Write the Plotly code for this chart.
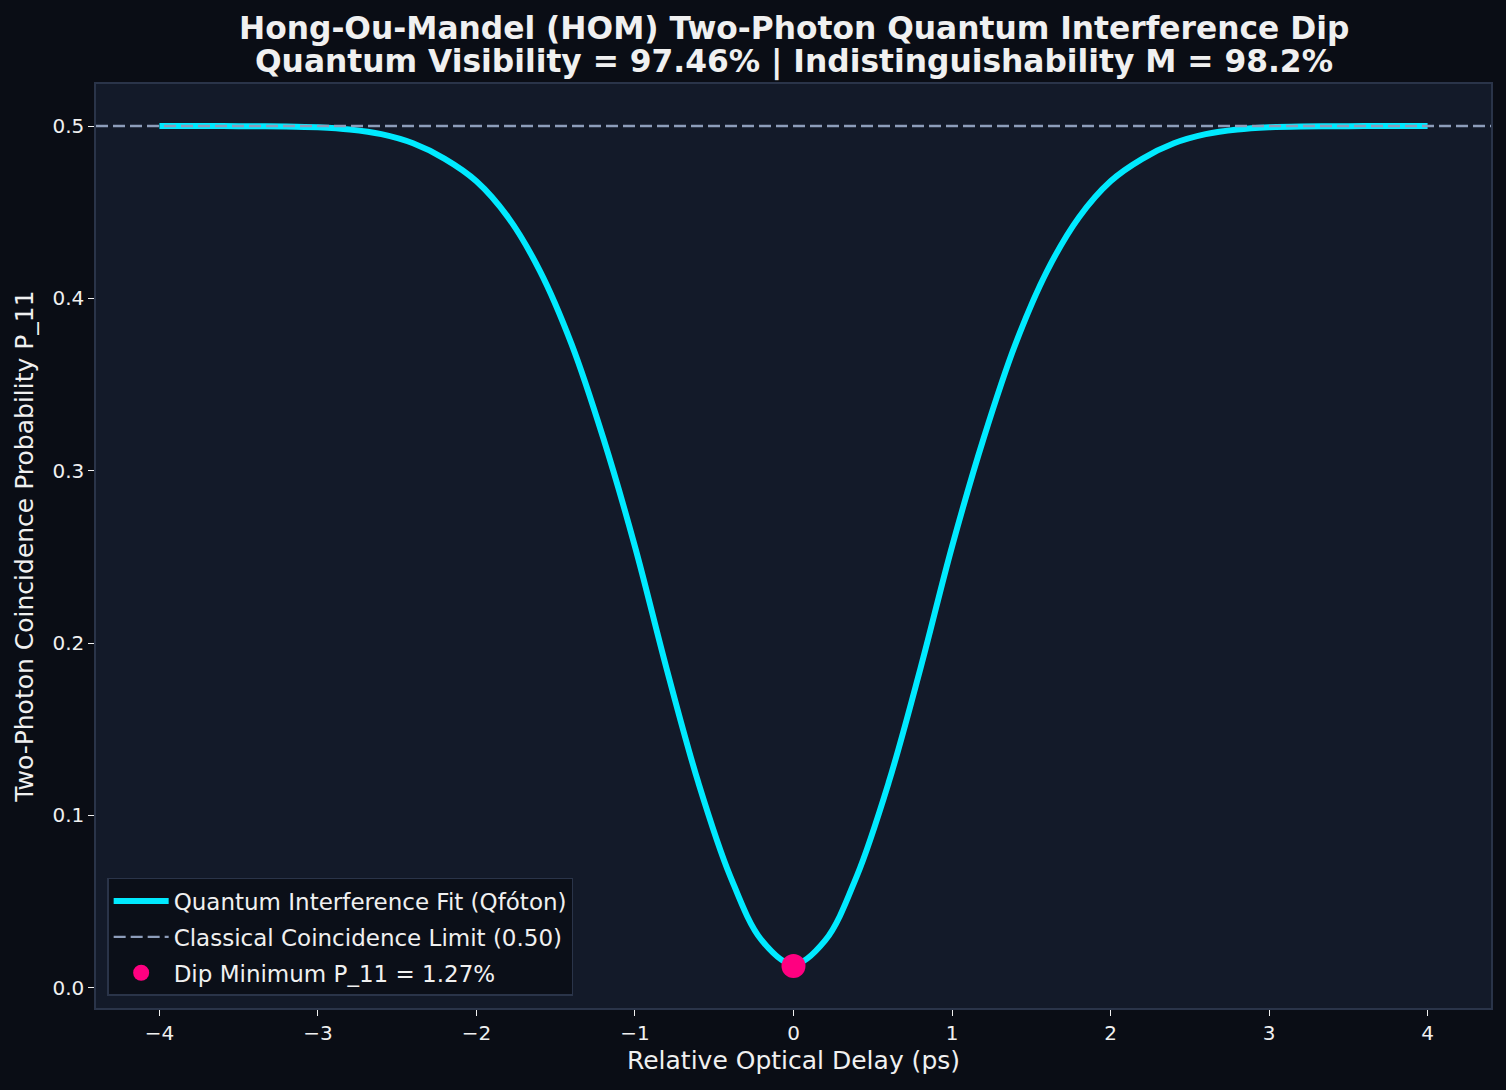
import plotly.graph_objects as go

# HOM dip, values (relative delay in ps, P_11)
delay_ps = [-4.0, -3.8, -3.6, -3.4, -3.2, -3.0, -2.8, -2.6, -2.4, -2.2, -2.0,
            -1.8, -1.6, -1.4, -1.2, -1.0, -0.8, -0.6, -0.4, -0.2, 0.0,
            0.2, 0.4, 0.6, 0.8, 1.0, 1.2, 1.4, 1.6, 1.8, 2.0,
            2.2, 2.4, 2.6, 2.8, 3.0, 3.2, 3.4, 3.6, 3.8, 4.0]
p11 = [0.5000, 0.5000, 0.5000, 0.4999, 0.4998, 0.4993, 0.4980, 0.4953, 0.4900, 0.4810, 0.4680,
       0.4470, 0.4160, 0.3735, 0.3190, 0.2560, 0.1850, 0.1190, 0.0650, 0.0275, 0.0135,
       0.0275, 0.0650, 0.1190, 0.1850, 0.2560, 0.3190, 0.3735, 0.4160, 0.4470, 0.4680,
       0.4810, 0.4900, 0.4953, 0.4980, 0.4993, 0.4998, 0.4999, 0.5000, 0.5000, 0.5000]

classical_limit = 0.50
dip_delay = 0.0
dip_min = 0.0127
visibility = 97.46
indist = 98.2

x_ticks = [-4, -3, -2, -1, 0, 1, 2, 3, 4]
y_ticks = [0.0, 0.1, 0.2, 0.3, 0.4, 0.5]

PAPER = "#0a0d15"
PLOT = "#131a29"
EDGE = "#2a3449"
TXT = "#f0f0f0"
FONT = "DejaVu Sans"

fig = go.Figure()

fig.add_trace(go.Scatter(
    x=delay_ps, y=p11, mode="lines",
    line=dict(color="#00eaff", width=6, shape="spline", smoothing=1.0),
    name="Quantum Interference Fit (Qfóton)",
    legendrank=1, legendgroup="a",
))

fig.add_hline(
    y=classical_limit, layer="above",
    line=dict(color="#8d9dba", width=2.4, dash="12px,5px"),
    showlegend=True, name=f"Classical Coincidence Limit ({classical_limit:.2f})",
    legendrank=2, legendgroup="b",
)

fig.add_trace(go.Scatter(
    x=[dip_delay], y=[dip_min], mode="markers",
    marker=dict(color="#ff0080", size=24),
    name=f"Dip Minimum P_11 = {dip_min*100:.2f}%",
    legendrank=3, legendgroup="c",
))

axis_common = dict(
    showgrid=False, zeroline=False,
    showline=True, linecolor=EDGE, linewidth=1.5, mirror=True,
    ticks="outside", ticklen=6, tickwidth=1.3, tickcolor=TXT,
    tickfont=dict(size=20, color=TXT, family=FONT),
)

fig.update_xaxes(
    range=[-4.4, 4.4], tickvals=x_ticks,
    title=dict(text="Relative Optical Delay (ps)", font=dict(size=25, color=TXT, family=FONT), standoff=8),
    **axis_common,
)
fig.update_yaxes(
    range=[-0.0117, 0.5244], tickvals=y_ticks, tickformat=".1f",
    title=dict(text="Two-Photon Coincidence Probability P_11", font=dict(size=25, color=TXT, family=FONT), standoff=12),
    **axis_common,
)

# two title lines as annotations (matplotlib line spacing is tighter than plotly's)
title_lines = [
    "Hong-Ou-Mandel (HOM) Two-Photon Quantum Interference Dip",
    f"Quantum Visibility = {visibility:.2f}% | Indistinguishability M = {indist:.1f}%",
]
for line_text, ypos in zip(title_lines, [1.0605, 1.0235]):
    fig.add_annotation(
        text=f"<b>{line_text}</b>", xref="paper", yref="paper",
        x=0.5, y=ypos, xanchor="center", yanchor="middle", showarrow=False,
        font=dict(size=31.3, color=TXT, family=FONT),
    )

fig.update_layout(
    width=1506, height=1090,
    paper_bgcolor=PAPER, plot_bgcolor=PLOT,
    font=dict(family=FONT, color=TXT),
    margin=dict(l=96, r=15, t=84, b=82),
    legend=dict(
        x=0.008, y=0.013, xanchor="left", yanchor="bottom",
        bgcolor="#0b0f18", bordercolor=EDGE, borderwidth=1.5,
        font=dict(size=23, color=TXT, family=FONT),
        tracegroupgap=3, itemwidth=55,
    ),
)

fig.write_html("out.html", config={"displayModeBar": False},
               post_script="document.body.style.margin='0';")
